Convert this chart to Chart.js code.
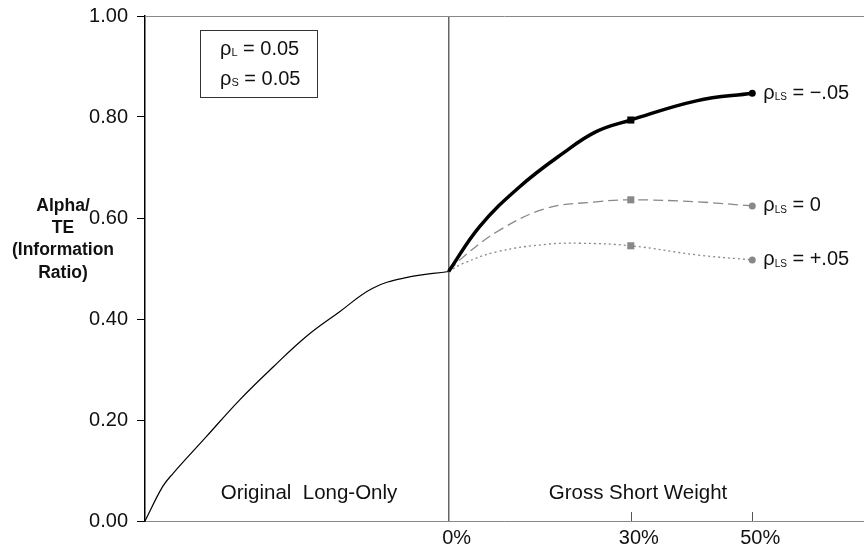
<!DOCTYPE html>
<html lang="en">
<head>
<meta charset="UTF-8">
<title>Alpha/TE vs Gross Short Weight</title>
<style>
    body { margin: 0; background: #fff; overflow: hidden; }
    #wrap { width: 864px; height: 550px; position: relative; overflow: hidden; }
</style>
</head>
<body>
<div id="wrap"><canvas id="chart" width="868" height="550"></canvas></div>
<script src="https://cdn.jsdelivr.net/npm/chart.js"></script>
<script>
    // x in percent of gross short weight (negative side = long-only region)
    const longOnlyX = [-50, -47.1, -45.4, -39.9, -34.4, -28.9, -23.4, -18.0, -12.5, -7.0, 0];
    const longOnlyY = [0.00, 0.068, 0.094, 0.167, 0.240, 0.305, 0.366, 0.414, 0.461, 0.482, 0.494];

    const negX = [0, 5.1, 11.7, 18.8, 24.3, 30, 40.8, 50];
    const negY = [0.494, 0.583, 0.662, 0.728, 0.771, 0.794, 0.832, 0.847];

    const zeroX = [0, 2.4, 8.4, 16.1, 24.3, 30, 40.8, 50];
    const zeroY = [0.494, 0.523, 0.576, 0.619, 0.632, 0.636, 0.632, 0.624];

    const posX = [0, 2.4, 7.9, 16.1, 21.6, 30, 40.8, 50];
    const posY = [0.494, 0.510, 0.533, 0.548, 0.550, 0.545, 0.527, 0.517];

    const xTickValues = [0, 30, 50];
    const yTickStep = 0.2;
    const seriesLabels = [' = \u2212.05', ' = 0', ' = +.05'];
    const regionLabels = ['Original  Long-Only', 'Gross Short Weight'];
    const yTitle = ['Alpha/', 'TE', '(Information', 'Ratio)'];

    const FONT = '"Liberation Sans", Arial, Helvetica, sans-serif';

    function pts(xs, ys) {
        return xs.map((x, i) => ({ x: x, y: ys[i] }));
    }
    // markers only at 30% (square) and 50% (circle)
    function markRadius(xs, sq, ci) {
        return xs.map(x => x === 30 ? sq : (x === 50 ? ci : 0));
    }
    function markStyle(xs) {
        return xs.map(x => x === 30 ? 'rect' : 'circle');
    }

    function rhoText(ctx, sub, rest, x, y, subSize) {
        ctx.font = '20px ' + FONT;
        ctx.fillText('\u03c1', x, y);
        x += ctx.measureText('\u03c1').width;
        ctx.font = subSize + 'px ' + FONT;
        ctx.fillText(sub, x, y + 4);
        x += ctx.measureText(sub).width;
        ctx.font = '20px ' + FONT;
        ctx.fillText(rest, x, y);
    }

    const annotations = {
        id: 'annotations',
        beforeDatasetsDraw(chart) {
            const { ctx, chartArea } = chart;
            ctx.save();
            // top frame line
            ctx.strokeStyle = '#888';
            ctx.lineWidth = 1;
            ctx.beginPath();
            ctx.moveTo(chartArea.left, chartArea.top + 0.5);
            ctx.lineTo(chartArea.right, chartArea.top + 0.5);
            ctx.stroke();
            ctx.restore();
        },
        afterDatasetsDraw(chart) {
            const { ctx, chartArea } = chart;
            const xs = chart.scales.x;
            ctx.save();

            // inward ticks on x axis at 30% and 50%
            ctx.strokeStyle = '#555';
            ctx.lineWidth = 1;
            xTickValues.filter(v => v !== 0).forEach(v => {
                const px = Math.round(xs.getPixelForValue(v)) + 0.5;
                ctx.beginPath();
                ctx.moveTo(px, chartArea.bottom);
                ctx.lineTo(px, chartArea.bottom - 9);
                ctx.stroke();
            });

            // rho labels at series ends
            ctx.fillStyle = '#111';
            ctx.textBaseline = 'middle';
            [1, 2, 3].forEach((di, k) => {
                const meta = chart.getDatasetMeta(di);
                const last = meta.data[meta.data.length - 1];
                rhoText(ctx, 'LS', seriesLabels[k], last.x + 11, last.y, 10);
            });

            // parameter box
            ctx.strokeStyle = '#333';
            ctx.lineWidth = 1;
            ctx.strokeRect(200.5, 30.5, 117, 67);
            rhoText(ctx, 'L', ' = 0.05', 220, 49, 11);
            rhoText(ctx, 'S', ' = 0.05', 220, 79, 11);

            // region labels
            ctx.textAlign = 'center';
            ctx.font = '20.5px ' + FONT;
            ctx.fillText(regionLabels[0], 309, 493);
            ctx.fillText(regionLabels[1], 638, 493);

            // y axis title
            ctx.font = 'bold 17.5px ' + FONT;
            yTitle.forEach((t, i) => {
                ctx.fillText(t, 63, 206 + i * 22.3);
            });
            ctx.restore();
        }
    };

    const data = {
        datasets: [
            {
                data: pts(longOnlyX, longOnlyY),
                borderColor: '#000',
                borderWidth: 1.2,
                pointRadius: 0,
                tension: 0.4
            },
            {
                data: pts(negX, negY),
                borderColor: '#000',
                backgroundColor: '#000',
                borderWidth: 3.5,
                pointRadius: markRadius(negX, 5, 3.5),
                pointStyle: markStyle(negX),
                pointBorderWidth: 0,
                tension: 0.4,
                order: -1
            },
            {
                data: pts(zeroX, zeroY),
                borderColor: '#888',
                backgroundColor: '#888',
                borderWidth: 1.3,
                borderDash: [10, 5],
                pointRadius: markRadius(zeroX, 5, 3.5),
                pointStyle: markStyle(zeroX),
                pointBorderWidth: 0,
                tension: 0.4
            },
            {
                data: pts(posX, posY),
                borderColor: '#888',
                backgroundColor: '#888',
                borderWidth: 1.3,
                borderDash: [2, 3],
                pointRadius: markRadius(posX, 5, 3.5),
                pointStyle: markStyle(posX),
                pointBorderWidth: 0,
                tension: 0.4
            }
        ]
    };

    new Chart(document.getElementById('chart'), {
        type: 'line',
        data: data,
        plugins: [annotations],
        options: {
            responsive: false,
            animation: false,
            layout: { padding: { top: 16, right: 0, left: 0, bottom: 0 } },
            plugins: { legend: { display: false }, tooltip: { enabled: false } },
            scales: {
                x: {
                    type: 'linear',
                    min: -50,
                    max: 68.4,
                    afterBuildTicks: s => { s.ticks = xTickValues.map(v => ({ value: v })); },
                    afterFit: s => { s.height = 29; s.paddingLeft = 0; s.paddingRight = 0; },
                    ticks: {
                        callback: v => v + '%',
                        color: '#111',
                        font: { family: FONT, size: 20 },
                        padding: 5,
                        labelOffset: 8,
                        maxRotation: 0,
                        autoSkip: false
                    },
                    grid: {
                        drawTicks: false,
                        color: c => (c.tick && c.tick.value === 0) ? '#666' : 'transparent',
                        lineWidth: 1.5
                    },
                    border: { color: '#888', width: 1 }
                },
                y: {
                    min: 0,
                    max: 1,
                    afterFit: s => { s.width = 145; s.paddingTop = 0; s.paddingBottom = 0; },
                    ticks: {
                        stepSize: yTickStep,
                        callback: v => v.toFixed(2),
                        color: '#111',
                        font: { family: FONT, size: 20 },
                        padding: 9
                    },
                    grid: {
                        drawOnChartArea: false,
                        drawTicks: true,
                        tickLength: 8,
                        color: '#000'
                    },
                    border: { color: '#000', width: 1.5 }
                }
            }
        }
    });
</script>
</body>
</html>
